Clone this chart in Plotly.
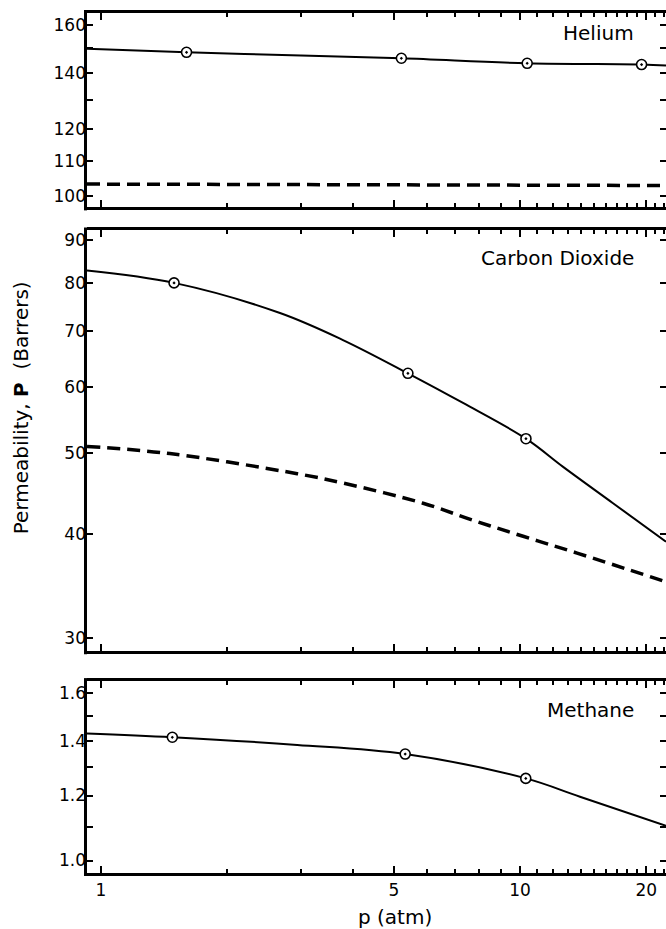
import plotly.graph_objects as go
import numpy as np

# ---------------- data ----------------
# Helium
he_curve_p = [0.926, 1.60, 3.0, 5.21, 10.4, 19.5, 22.3]
he_curve_P = [149.8, 148.3, 147.0, 145.9, 143.9, 143.4, 143.0]
he_pts_p = [1.60, 5.21, 10.4, 19.5]
he_pts_P = [148.3, 145.9, 143.9, 143.4]
he_dash_p = [0.926, 5.0, 22.3]
he_dash_P = [103.3, 103.1, 102.9]

# Carbon dioxide
co2_curve_p = [0.926, 1.494, 2.674, 3.78, 5.40, 7.31, 10.33, 12.67, 16.67, 22.3]
co2_curve_P = [82.8, 80.0, 73.6, 68.3, 62.3, 57.4, 52.0, 48.1, 43.5, 39.1]
co2_pts_p = [1.494, 5.40, 10.33]
co2_pts_P = [80.0, 62.3, 52.0]
co2_dash_p = [0.926, 1.46, 2.94, 3.78, 5.87, 7.72, 10.17, 13.68, 22.3]
co2_dash_P = [50.9, 49.9, 47.2, 46.0, 43.5, 41.5, 39.7, 37.9, 35.0]

# Methane
ch4_curve_p = [0.926, 1.48, 2.94, 5.32, 10.32, 13.9, 22.3]
ch4_curve_P = [1.428, 1.413, 1.383, 1.348, 1.259, 1.196, 1.102]
ch4_pts_p = [1.48, 5.32, 10.32]
ch4_pts_P = [1.413, 1.348, 1.259]

x_major = [1, 5, 10, 20]
x_major_text = ["1", "5", "10", "20"]
x_minor = [2, 3, 4, 6, 7, 8, 9, 11, 12, 13, 14, 15, 16, 17, 18, 19, 21, 22]

he_ticks = [100, 110, 120, 130, 140, 150, 160]
he_ticktext = ["100", "110", "120", "", "140", "", "160"]
co2_ticks = [30, 40, 50, 60, 70, 80, 90]
co2_ticktext = ["30", "40", "50", "60", "70", "80", "90"]
ch4_ticks = [1.0, 1.1, 1.2, 1.3, 1.4, 1.5, 1.6]
ch4_ticktext = ["1.0", "", "1.2", "", "1.4", "", "1.6"]

panel_names = ["Helium", "Carbon Dioxide", "Methane"]

# ---------------- layout geometry ----------------
W, H = 666, 929
ML, MR, MT, MB = 87, 0, 12.5, 56
plot_h = H - MT - MB
plot_w = W - ML - MR


def py(px):
    return (H - MB - px) / plot_h


def pxx(px):
    return (px - ML) / plot_w


FONT = "DejaVu Sans"
fig = go.Figure()

line_style = dict(color="black", width=2)
dash_style = dict(color="black", width=3.5, dash="13px,7px")
mk = dict(symbol="circle-dot", size=10, color="white",
          line=dict(color="black", width=1.6))
SM = 1.0

# Helium -> axis 1 (top)
fig.add_trace(go.Scatter(x=he_curve_p, y=he_curve_P, mode="lines",
                         line=dict(line_style, shape="spline", smoothing=SM),
                         xaxis="x", yaxis="y"))
fig.add_trace(go.Scatter(x=he_dash_p, y=he_dash_P, mode="lines", line=dash_style,
                         xaxis="x", yaxis="y"))
fig.add_trace(go.Scatter(x=he_pts_p, y=he_pts_P, mode="markers", marker=mk,
                         xaxis="x", yaxis="y"))
# CO2 -> axis 2
fig.add_trace(go.Scatter(x=co2_curve_p, y=co2_curve_P, mode="lines",
                         line=dict(line_style, shape="spline", smoothing=SM),
                         xaxis="x2", yaxis="y2"))
fig.add_trace(go.Scatter(x=co2_dash_p, y=co2_dash_P, mode="lines",
                         line=dict(dash_style, shape="spline", smoothing=SM),
                         xaxis="x2", yaxis="y2"))
fig.add_trace(go.Scatter(x=co2_pts_p, y=co2_pts_P, mode="markers", marker=mk,
                         xaxis="x2", yaxis="y2"))
# Methane -> axis 3
fig.add_trace(go.Scatter(x=ch4_curve_p, y=ch4_curve_P, mode="lines",
                         line=dict(line_style, shape="spline", smoothing=SM),
                         xaxis="x3", yaxis="y3"))
fig.add_trace(go.Scatter(x=ch4_pts_p, y=ch4_pts_P, mode="markers", marker=mk,
                         xaxis="x3", yaxis="y3"))

xrange = [np.log10(0.926), np.log10(22.3)]


def xaxis(anchor, show_labels):
    return dict(type="log", range=xrange, anchor=anchor, domain=[0, 1],
                showline=True, linewidth=3, linecolor="black", mirror="ticks",
                ticks="inside", ticklen=7, tickwidth=1.5, tickcolor="black",
                tickmode="array", tickvals=x_major, ticktext=x_major_text,
                showticklabels=show_labels, showgrid=False, zeroline=False,
                tickfont=dict(family=FONT, size=17, color="black"),
                minor=dict(tickmode="array", tickvals=x_minor, ticks="inside",
                           ticklen=4, tickwidth=1.5, tickcolor="black", showgrid=False))


def yaxis(anchor, dom, rng, tv, tt):
    return dict(type="log", range=[np.log10(rng[0]), np.log10(rng[1])], anchor=anchor,
                domain=dom, showline=False, linewidth=3, linecolor="black",
                mirror="ticks", ticks="inside", ticklen=6, tickwidth=1.5,
                tickcolor="black", tickmode="array", tickvals=tv, ticktext=tt,
                showgrid=False, zeroline=False,
                tickfont=dict(family=FONT, size=17, color="black"))


panel_px = [(12.5, 207), (230, 651), (681, 873)]  # (top, bottom) in pixels

fig.update_layout(
    width=W, height=H,
    margin=dict(l=ML, r=MR, t=MT, b=MB, pad=0),
    paper_bgcolor="white", plot_bgcolor="white",
    showlegend=False,
    xaxis=xaxis("y", False),
    xaxis2=xaxis("y2", False),
    xaxis3=xaxis("y3", True),
    yaxis=yaxis("x", [py(panel_px[0][1]), 1], (96.9, 165.2), he_ticks, he_ticktext),
    yaxis2=yaxis("x2", [py(panel_px[1][1]), py(panel_px[1][0])], (28.9, 92.5),
                 co2_ticks, co2_ticktext),
    yaxis3=yaxis("x3", [0, py(panel_px[2][0])], (0.9656, 1.654), ch4_ticks, ch4_ticktext),
)

# left frame edge of each panel (right edge falls just outside the page)
for top, bot in panel_px:
    fig.add_shape(type="line", xref="paper", yref="paper",
                  x0=pxx(85.5), x1=pxx(85.5), y0=py(bot + 3), y1=py(top - 3),
                  line=dict(color="black", width=3))

ann_font = dict(family=FONT, size=20, color="black")
for name, ypix in zip(panel_names, [33, 258, 710]):
    fig.add_annotation(x=pxx(636), y=py(ypix), xref="paper", yref="paper",
                       text=name, showarrow=False, xanchor="right", yanchor="middle",
                       font=ann_font)

fig.add_annotation(x=pxx(21), y=py(408), xref="paper", yref="paper",
                   text="Permeability, <b>P</b>&nbsp; (Barrers)", textangle=-90,
                   showarrow=False, xanchor="center", yanchor="middle", font=ann_font)
fig.add_annotation(x=pxx(395), y=py(917), xref="paper", yref="paper",
                   text="p (atm)", showarrow=False, xanchor="center", yanchor="middle",
                   font=ann_font)

fig.write_html("out.html")
